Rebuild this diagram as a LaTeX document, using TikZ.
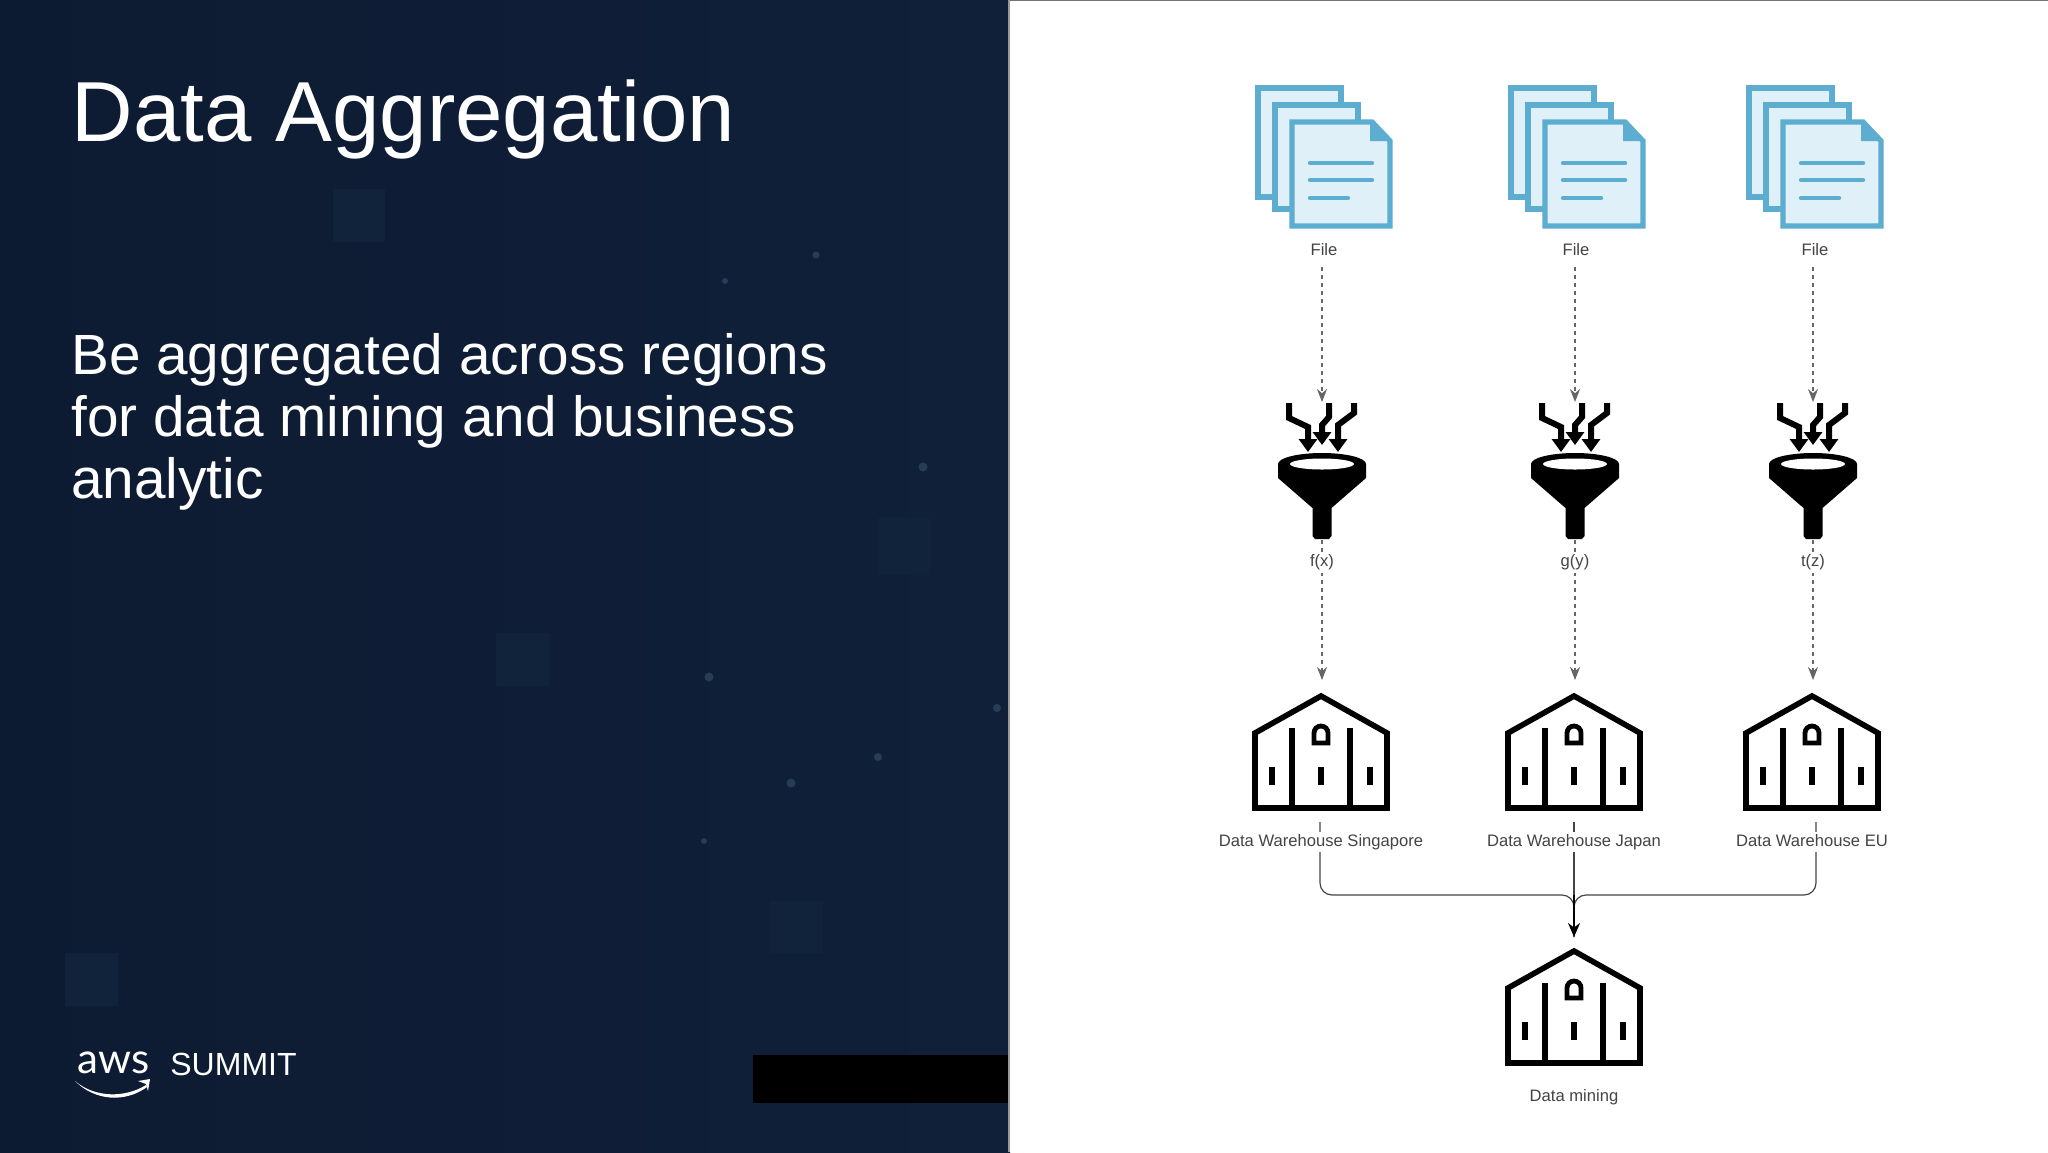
\documentclass[tikz,border=0pt]{standalone}
\usepackage{fontspec}
\setmainfont{Liberation Sans}
\newfontfamily\logofont{Lato}
\usetikzlibrary{arrows.meta,positioning}
\definecolor{navyL}{HTML}{0D1B32}
\definecolor{navyR}{HTML}{102039}
\definecolor{navyfaint}{HTML}{11223B}
\definecolor{navydot}{HTML}{263D58}
\definecolor{fileblue}{HTML}{5CADCF}
\definecolor{filepale}{HTML}{DFF0F9}
\definecolor{labelgrey}{HTML}{444444}
\definecolor{flowgrey}{HTML}{666666}
\tikzset{
  flow/.style={dash pattern=on 2pt off 2pt,draw=flowgrey,line width=.6pt,-{Stealth[length=6.5pt,width=5pt]}},
  merge/.style={draw=labelgrey,line width=.6pt,rounded corners=6pt},
  mergehead/.style={draw=black,line width=1.1pt,-{Stealth[length=7pt,width=6pt]}},
  anchorbox/.style={inner sep=0pt,outer sep=0pt,minimum width=60pt},
  diagtext/.style={font=\fontsize{8.3}{10}\selectfont,text=labelgrey,inner sep=1pt,text height=6pt,text depth=2pt},
  filelabel/.style={diagtext,minimum height=16pt},
  sheet/.style={draw=fileblue,fill=filepale,line width=2.7pt,miter limit=10},
  funarrow/.style={black,line width=3pt,-{Triangle[length=6.5pt,width=9pt]}},
  % one stacked file icon, origin at the arrow column and y=0 of the picture
  fileicon/.pic={
    \draw [sheet] (-64,88) rectangle (19,197);
    \draw [sheet] (-47,105) rectangle (36,209);
    \draw [sheet] (-30,122) -- (50,122) -- (68,141) -- (68,226) -- (-30,226) -- cycle;
    \fill [fileblue] (48,120) -- (70,141) -- (48,141) -- cycle;
    \draw [fileblue,line width=2.2pt,line cap=round] (-12,163) -- (50,163) (-12,180) -- (50,180) (-12,198) -- (26,198);
  },
  funnelicon/.pic={
    \fill [black] (-44,464) arc [start angle=180,end angle=360,x radius=44,y radius=11] -- (44,478) -- (9.5,508) -- (9.5,536) -- (7,539) -- (-7,539) -- (-9.5,536) -- (-9.5,508) -- (-44,478) -- cycle;
    \fill [white] (0,464) ellipse [x radius=32,y radius=5.5];
    \draw [funarrow] (-33,403) -- (-33,418) -- (-14,427) -- (-14,452);
    \draw [funarrow] (7,403) -- (7,417) -- (0,425) -- (0,445);
    \draw [funarrow] (32,403) -- (32,413) -- (16,425) -- (16,452);
  },
  % warehouse icon, origin at the tip of the roof
  warehouse/.pic={
    \draw [black,line width=2.8pt,miter limit=10] (0,3) -- (66,40) -- (66,115) -- (-66,115) -- (-66,40) -- cycle;
    \draw [black,line width=2.6pt] (-29,35) -- (-29,115) (29,35) -- (29,115);
    \draw [black,line width=2.4pt] (-7,50) -- (-7,40) arc [start angle=180,end angle=360,radius=7] -- (7,50) -- cycle;
    \draw [black,line width=2.6pt] (-49,74) -- (-49,92) (0,74) -- (0,92) (49,74) -- (49,92);
  },
}
\begin{document}
\begin{tikzpicture}[x=.5pt,y=-.5pt]
  \useasboundingbox (0,0) rectangle (2048,1152);
  % left panel
  \shade [left color=navyL,right color=navyR] (0,0) rectangle (1010,1152);
  \fill [navyfaint] (333,189) rectangle (385,242) (496,633) rectangle (549,686) (770,901) rectangle (823,953) (65,953) rectangle (118,1006) (878,518) rectangle (931,575);
  \fill [navydot] (816,255) circle [radius=3.5] (725,281) circle [radius=3] (923,467) circle [radius=4.5] (709,677) circle [radius=4.5] (878,757) circle [radius=4] (791,783) circle [radius=4.5] (997,708) circle [radius=4] (704,841) circle [radius=3];
  \fill [white] (1010,0) rectangle (2048,1152);
  \draw [draw=black!55,line width=.8pt] (1010,0) -- (2048,0);
  \draw [draw=black!40,line width=.8pt] (1009,0) -- (1009,1152);
  \fill [black] (753,1055) rectangle (1008,1103);
  \node [anchor=base west,inner sep=0pt,text=white,font=\fontsize{42.6}{46}\selectfont] (title) at (71.5,141) {Data Aggregation};
  \node [anchor=base west,inner sep=0pt,text=white,align=left,font=\fontsize{28.35}{30.9}\selectfont] (body) at (71,498) {Be aggregated across regions\\for data mining and business\\analytic};
  \node [anchor=base west,inner sep=0pt,text=white,font=\logofont\fontsize{21}{24}\selectfont] (aws) at (77,1073) {aws};
  \node [anchor=base west,inner sep=0pt,text=white,font=\fontsize{16}{18}\selectfont] (summit) at (170,1075) {SUMMIT};
  \fill [white] (75,1081) .. controls (95,1098) and (125,1098) .. (146,1085) -- (147,1087) .. controls (125,1103) and (95,1101) .. (75,1081) -- cycle;
  \fill [white] (138,1081) -- (150,1079) -- (148,1091) -- (146,1084) -- cycle;
  % icons
  \pic at (1322,0) {fileicon};
  \pic at (1575,0) {fileicon};
  \pic at (1813,0) {fileicon};
  \pic at (1322,0) {funnelicon};
  \pic at (1575,0) {funnelicon};
  \pic at (1813,0) {funnelicon};
  \pic at (1321,693) {warehouse};
  \pic at (1574,693) {warehouse};
  \pic at (1812,693) {warehouse};
  \pic at (1574,948) {warehouse};
  % anchors round the icons
  \node [anchorbox,minimum height=69pt] (fun-a) at (1322,471) {};
  \node [anchorbox,minimum height=69pt] (fun-b) at (1575,471) {};
  \node [anchorbox,minimum height=69pt] (fun-c) at (1813,471) {};
  \node [anchorbox,minimum height=71pt] (wh-a) at (1320,751) {};
  \node [anchorbox,minimum height=71pt] (wh-b) at (1574,751) {};
  \node [anchorbox,minimum height=71pt] (wh-c) at (1816,751) {};
  \node [anchorbox,minimum height=66pt] (mining) at (1574,1003) {};
  \coordinate (merge) at (1574,895);
  % labels
  \node [filelabel] (file-a) at (1324,251) {File};
  \node [filelabel] (file-b) at (1576,251) {File};
  \node [filelabel] (file-c) at (1815,251) {File};
  % connectors
  \draw [flow] (fun-a |- file-a.south) to (fun-a.north);
  \draw [flow] (fun-b |- file-b.south) to (fun-b.north);
  \draw [flow] (fun-c |- file-c.south) to (fun-c.north);
  \draw [flow] (fun-a.south) to node [pos=.164,diagtext,fill=white] (fx) {f(x)} (fun-a.south |- wh-a.north);
  \draw [flow] (fun-b.south) to node [pos=.164,diagtext,fill=white] (gy) {g(y)} (fun-b.south |- wh-b.north);
  \draw [flow] (fun-c.south) to node [pos=.164,diagtext,fill=white] (tz) {t(z)} (fun-c.south |- wh-c.north);
  \draw [merge] (wh-a.south) |- (merge) -- (mining.north);
  \draw [merge] (wh-c.south) |- (merge) -- (mining.north);
  \draw [merge] (wh-b.south) -- (merge);
  \draw [mergehead] (merge) to (mining.north);
  \node [diagtext,fill=white] (wh-a-label) at (1321,842) {Data Warehouse Singapore};
  \node [diagtext,fill=white] (wh-b-label) at (1574,842) {Data Warehouse Japan};
  \node [diagtext,fill=white] (wh-c-label) at (1812,842) {Data Warehouse EU};
  \node [diagtext] (mining-label) at (1574,1097) {Data mining};
\end{tikzpicture}
\end{document}
